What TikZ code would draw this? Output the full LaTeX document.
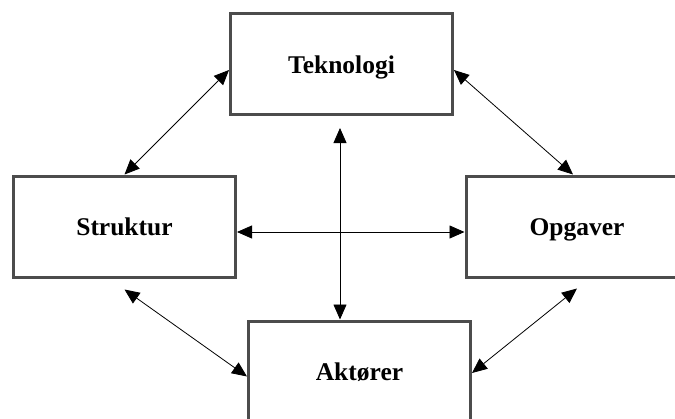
\documentclass[tikz,border=0pt]{standalone}
\usepackage{fontspec}
\setmainfont{Liberation Serif}
\usetikzlibrary{arrows.meta}
\begin{document}
\begin{tikzpicture}[x=1pt, y=-1pt,
	box/.style={draw=black!70, line width=3pt, fill=white, minimum width=222pt, minimum height=101pt, inner sep=0pt, text height=20pt, text depth=2pt, font=\fontsize{25.5}{30}\selectfont\bfseries},
	link/.style={line width=.8pt, {Triangle[length=15pt,width=13pt]}-{Triangle[length=15pt,width=13pt]}}]
	\path[use as bounding box, clip] (0,0) rectangle (675,418);
	\node[box] (tek) at (341.5,64)    {Teknologi};
	\node[box] (str) at (124.5,226.5) {Struktur};
	\node[box] (opg) at (577,226.5)   {Opgaver};
	\node[box] (akt) at (359.5,371.5) {Aktører};
	\draw[link] ([yshift=-6pt]tek.west)   -- (str.north);
	\draw[link] ([yshift=-6pt]tek.east)   -- ([xshift=-4pt]opg.north);
	\draw[link] ([yshift=-11pt]str.south) -- ([yshift=-5pt]akt.west);
	\draw[link] ([yshift=-10pt]opg.south) -- ([yshift=-1.5pt]akt.east);
	\draw[link] ([yshift=-5.5pt]str.east) -- ([yshift=-5.5pt]opg.west);
	\draw[link] ([xshift=-1.5pt,yshift=-12pt]tek.south) -- ([xshift=-1.5pt]tek.south |- akt.north);
\end{tikzpicture}
\end{document}
